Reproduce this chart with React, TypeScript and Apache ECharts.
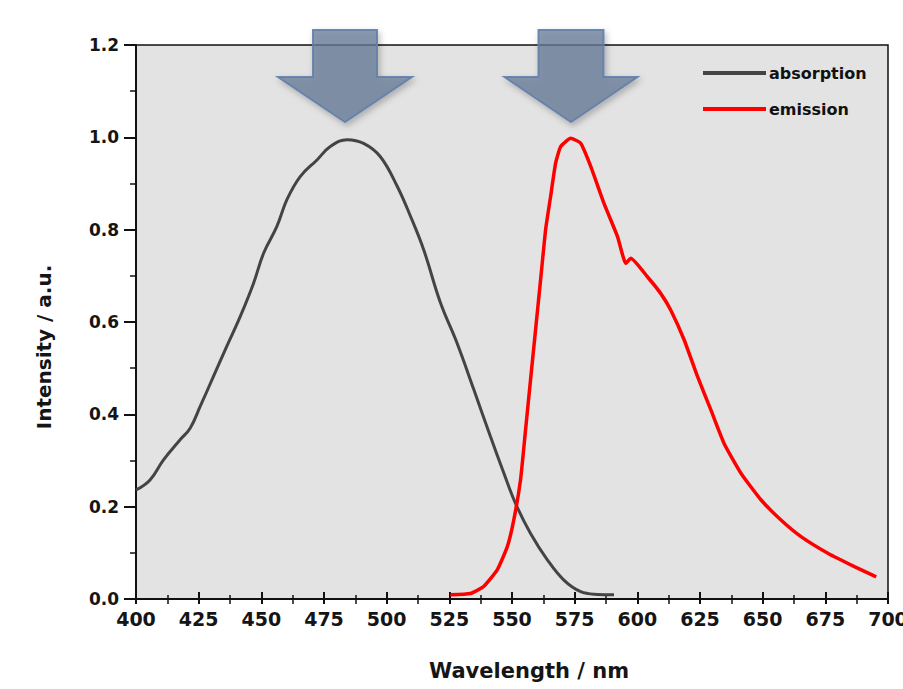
import React, { useEffect, useRef } from "react";
import * as echarts from "echarts";

const absWavelength = [400, 405.6, 410.9, 417.6, 421.6, 425.6, 430.9, 436.2, 441.6, 446.9, 450.9, 456.2, 460.2, 465.5, 472.2, 477.5, 484.2, 490.8, 497.5, 504.2, 509.5, 514.8, 521.5, 528.1, 534.8, 541.4, 546.8, 551.4, 557.4, 564.1, 570.7, 577.4, 584.1, 590.7];
const absIntensity = [0.236, 0.258, 0.301, 0.345, 0.37, 0.417, 0.482, 0.547, 0.612, 0.684, 0.749, 0.807, 0.865, 0.915, 0.951, 0.98, 0.995, 0.987, 0.958, 0.894, 0.829, 0.756, 0.641, 0.554, 0.453, 0.352, 0.272, 0.207, 0.142, 0.085, 0.041, 0.016, 0.01, 0.009];

const emWavelength = [525.4, 533.4, 538.7, 544.1, 548.1, 550.7, 553.4, 555.4, 557.4, 559.4, 561.4, 563.4, 565.4, 567.4, 569.4, 573.4, 577.4, 581.4, 586.7, 592.1, 595.4, 597.4, 604, 609.3, 613.3, 618.7, 624, 629.3, 634.6, 641.4, 649.3, 657.3, 665.3, 676, 686.6, 695.3];
const emIntensity = [0.009, 0.012, 0.027, 0.063, 0.113, 0.171, 0.258, 0.366, 0.475, 0.583, 0.691, 0.8, 0.872, 0.944, 0.98, 0.998, 0.987, 0.937, 0.857, 0.785, 0.727, 0.738, 0.698, 0.662, 0.626, 0.561, 0.482, 0.41, 0.337, 0.272, 0.215, 0.171, 0.135, 0.099, 0.07, 0.048];

const seriesNames = ["absorption", "emission"];
const xTitle = "Wavelength / nm";
const yTitle = "Intensity / a.u.";

const FONT = "DejaVu Sans";

function arrow(id: string, cx: number, halfShaft: number, halfHead: number, top: number, neck: number, tip: number) {
  return {
    id,
    type: "polygon",
    shape: {
      points: [
        [cx - halfShaft, top],
        [cx + halfShaft, top],
        [cx + halfShaft, neck],
        [cx + halfHead, neck],
        [cx, tip],
        [cx - halfHead, neck],
        [cx - halfShaft, neck],
      ],
    },
    style: {
      fill: "rgba(104,124,154,0.74)",
      stroke: "rgba(98,128,170,0.9)",
      lineWidth: 2,
      shadowBlur: 6,
      shadowOffsetX: 2,
      shadowOffsetY: 3,
      shadowColor: "rgba(0,0,0,0.3)",
    },
    z: 100,
  };
}

export default function App() {
  const ref = useRef<HTMLDivElement>(null);
  useEffect(() => {
    if (!ref.current) return;
    const chart = echarts.init(ref.current, null, { renderer: "svg" });
    const absData = absWavelength.map((w, i) => [w, absIntensity[i]]);
    const emData = emWavelength.map((w, i) => [w, emIntensity[i]]);
    chart.setOption({
      animation: false,
      backgroundColor: "#ffffff",
      textStyle: { fontFamily: FONT },
      grid: {
        left: 136,
        right: 15,
        top: 45,
        bottom: 90,
        outerBoundsMode: "none",
        containLabel: false,
        show: true,
        backgroundColor: "#e3e3e3",
        borderColor: "#111",
        borderWidth: 1.5,
      },
      legend: {
        orient: "vertical",
        left: 698,
        top: 59,
        itemWidth: 63,
        itemHeight: 4,
        itemGap: 18,
        icon: "rect",
        data: seriesNames,
        textStyle: {
          fontFamily: FONT,
          fontSize: 16,
          fontWeight: "bold",
          color: "#111",
          lineHeight: 18,
          padding: [0, 0, 0, -2],
        },
      },
      xAxis: [
        {
          type: "value",
          min: 400,
          max: 700,
          interval: 25,
          position: "bottom",
          axisLine: { show: true, lineStyle: { color: "#111", width: 2 } },
          axisTick: { show: true, inside: false, length: 5, lineStyle: { color: "#111", width: 2 } },
          minorTick: { show: true, splitNumber: 2, length: 5, lineStyle: { color: "#111", width: 1.5 } },
          axisLabel: { fontFamily: FONT, fontSize: 19, fontWeight: "bold", color: "#151515", margin: 10 },
          splitLine: { show: false },
        },
        {
          type: "value",
          min: 400,
          max: 700,
          interval: 25,
          position: "bottom",
          axisLine: { show: false },
          axisTick: { show: true, inside: true, length: 7, lineStyle: { color: "#111", width: 2 } },
          minorTick: { show: true, splitNumber: 2, length: 4, lineStyle: { color: "#111", width: 1.5 } },
          axisLabel: { show: false },
          splitLine: { show: false },
        },
      ],
      yAxis: {
        type: "value",
        min: 0,
        max: 1.2,
        interval: 0.2,
        axisLine: { show: true, lineStyle: { color: "#111", width: 2 } },
        axisTick: { show: true, inside: false, length: 12, lineStyle: { color: "#111", width: 2 } },
        minorTick: { show: true, splitNumber: 2, length: 6, lineStyle: { color: "#111", width: 1.5 } },
        axisLabel: {
          fontFamily: FONT,
          fontSize: 17,
          fontWeight: "bold",
          color: "#151515",
          margin: 17,
          formatter: (v: number) => v.toFixed(1),
        },
        splitLine: { show: false },
      },
      series: [
        {
          name: seriesNames[0],
          type: "line",
          xAxisIndex: 0,
          data: absData,
          showSymbol: false,
          smooth: 0.4,
          lineStyle: { color: "#444444", width: 3 },
          itemStyle: { color: "#444444" },
        },
        {
          name: seriesNames[1],
          type: "line",
          xAxisIndex: 0,
          data: emData,
          showSymbol: false,
          smooth: 0.15,
          lineStyle: { color: "#ff0000", width: 3.5 },
          itemStyle: { color: "#ff0000" },
        },
      ],
      graphic: [
        arrow("a1", 345, 32, 67, 30, 77, 122),
        arrow("a2", 571, 32.5, 66.5, 30, 77, 122),
        {
          id: "yt",
          type: "text",
          x: 44,
          y: 347,
          rotation: Math.PI / 2,
          style: {
            text: yTitle,
            fontFamily: FONT,
            fontSize: 20,
            fontWeight: "bold",
            fill: "#151515",
            textAlign: "center",
            textVerticalAlign: "middle",
          },
        },
        {
          id: "xt",
          type: "text",
          x: 529,
          y: 671,
          style: {
            text: xTitle,
            fontFamily: FONT,
            fontSize: 21,
            fontWeight: "bold",
            fill: "#151515",
            textAlign: "center",
            textVerticalAlign: "middle",
          },
        },
      ],
    });
    return () => chart.dispose();
  }, []);
  return (
    <div
      ref={ref}
      style={{ position: "fixed", left: 0, top: 0, width: 903, height: 689 }}
    />
  );
}
